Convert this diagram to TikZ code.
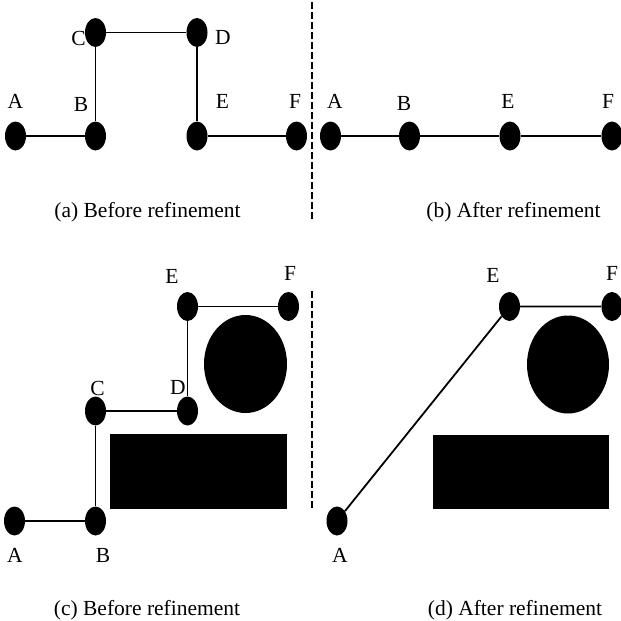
\documentclass[tikz,border=0pt]{standalone}
\usepackage{fontspec}
\setmainfont{Liberation Serif}
\usetikzlibrary{shapes.geometric}
\begin{document}
\begin{tikzpicture}[x=1pt,y=-1pt,
  vtx/.style={ellipse,fill=black,draw=none,minimum width=21pt,minimum height=29pt,inner sep=0pt},
  lbl/.style={inner sep=0pt,font=\fontsize{21.5}{25}\selectfont},
  capt/.style={inner sep=0pt,font=\fontsize{21.5}{25}\selectfont},
  edge/.style={line width=1.8pt},
  sepline/.style={line width=1.6pt,dash pattern=on 6.5pt off 3.5pt},
  obst/.style={fill=black}]
\useasboundingbox (0,0) rectangle (621,621);
% separators
\draw[sepline] (312,2) -- (312,220);
\draw[sepline] (312,291) -- (312,509);
% obstacles
\fill[obst] (245.5,364) ellipse [x radius=41.5, y radius=49];
\fill[obst] (110,434) rectangle (287,509);
\fill[obst] (568,364.5) ellipse [x radius=41, y radius=49];
\fill[obst] (433,435) rectangle (609,509);
% (a)
\node[vtx] (aA) at (15.5,136) {};
\node[vtx] (aB) at (95.5,136) {};
\node[vtx] (aC) at (95.5,32.5) {};
\node[vtx] (aD) at (197,32.5) {};
\node[vtx] (aE) at (197,136) {};
\node[vtx] (aF) at (296.5,136) {};
\draw[edge] (aA) -- (aB) -- (aC) -- (aD) -- (aE) -- (aF);
\node[lbl] (laA) at (15.5,101) {A};
\node[lbl] (laB) at (81,104) {B};
\node[lbl] (laC) at (78.5,38) {C};
\node[lbl] (laD) at (223,37) {D};
\node[lbl] (laE) at (222.5,101) {E};
\node[lbl] (laF) at (295,101) {F};
\node[capt] (capa) at (147.5,212.5) {(a) Before refinement};
% (b)
\node[vtx] (bA) at (330.5,136) {};
\node[vtx] (bB) at (409.5,136) {};
\node[vtx] (bE) at (510,136) {};
\node[vtx] (bF) at (612,136) {};
\draw[edge] (bA) -- (bB) -- (bE) -- (bF);
\node[lbl] (lbA) at (335,101) {A};
\node[lbl] (lbB) at (404,103.5) {B};
\node[lbl] (lbE) at (508,101) {E};
\node[lbl] (lbF) at (608,101) {F};
\node[capt] (capb) at (513.5,212.5) {(b) After refinement};
% (c)
\node[vtx] (cA) at (14.5,521) {};
\node[vtx] (cB) at (95.5,521) {};
\node[vtx] (cC) at (95.5,411) {};
\node[vtx] (cD) at (187.5,411) {};
\node[vtx] (cE) at (187.5,306.5) {};
\node[vtx] (cF) at (288.5,306.5) {};
\draw[edge] (cA) -- (cB) -- (cC) -- (cD) -- (cE) -- (cF);
\node[lbl] (lcA) at (15,555) {A};
\node[lbl] (lcB) at (103,555) {B};
\node[lbl] (lcC) at (97.5,388) {C};
\node[lbl] (lcD) at (178,387) {D};
\node[lbl] (lcE) at (172,276) {E};
\node[lbl] (lcF) at (290,273) {F};
\node[capt] (capc) at (147,610.5) {(c) Before refinement};
% (d)
\node[vtx] (dA) at (337,521) {};
\node[vtx] (dE) at (509.5,306.5) {};
\node[vtx] (dF) at (612,306.5) {};
\draw[edge] (dA) -- (dE) -- (dF);
\node[lbl] (ldA) at (340,555) {A};
\node[lbl] (ldE) at (493,275) {E};
\node[lbl] (ldF) at (612,273) {F};
\node[capt] (capd) at (515,610.5) {(d) After refinement};
\end{tikzpicture}
\end{document}
